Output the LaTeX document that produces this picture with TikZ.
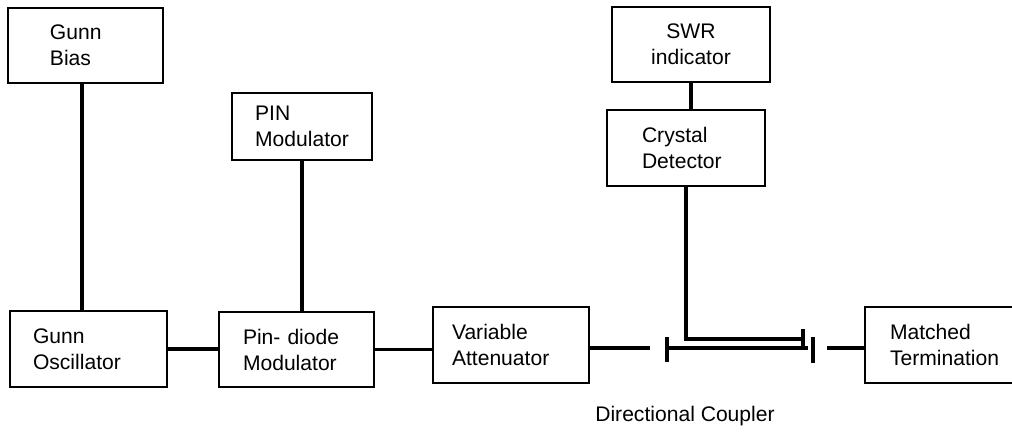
\documentclass[tikz,border=0pt]{standalone}
\usepackage{fontspec}
\setmainfont{Liberation Sans}
\usetikzlibrary{positioning}

\begin{document}
\begin{tikzpicture}[
  font=\fontsize{15pt}{18.5pt}\selectfont,
  block/.style={rectangle, draw, line width=1.2pt, align=left,
                minimum height=1.9cm, inner ysep=0pt},
  wire/.style={line width=2.5pt}
]
  \clip (0,0) rectangle (25.3,10.825);
  % source side
  \node[block, minimum width=3.875cm, minimum height=1.875cm,
        text width=1.775cm, inner xsep=1.05cm] (gb) at (2.1375,9.6875) {Gunn\\Bias};
  \node[block, minimum width=3.925cm, text width=2.775cm,
        inner xsep=0.575cm] (go) at (2.2125,2.1) {Gunn\\Oscillator};
  \node[block, minimum width=3.5cm, minimum height=1.675cm] (pm) at (7.55,7.6625) {PIN\\Modulator};
  \node[block, minimum width=3.875cm, minimum height=1.875cm,
        text width=2.675cm, inner xsep=0.6cm] (pd) at (7.4125,2.0875) {Pin- diode\\Modulator};
  \node[block, minimum width=3.9cm, text width=2.95cm,
        inner xsep=0.475cm] (va) at (12.775,2.2) {Variable\\Attenuator};
  % detector side
  \node[block, align=center, minimum width=3.95cm, minimum height=1.875cm] (sw) at (17.275,9.7125) {SWR\\indicator};
  \node[block, minimum width=3.95cm, text width=2.2cm,
        inner xsep=0.875cm] (cd) at (17.15,7.125) {Crystal\\Detector};
  \node[block, minimum width=4.125cm, text width=2.875cm,
        inner xsep=0.625cm] (mt) at (23.6875,2.2) {Matched\\Termination};
  \node (dclabel) at (17.125,0.425) {Directional Coupler};

  % coupler
  \coordinate (dcin) at (16.25,2.125);
  \coordinate (dcl) at (16.675,2.125);
  \coordinate (dcr) at (20.2,2.125);
  \coordinate (dcup) at (20.075,2.35);
  \coordinate (dcout) at (20.675,2.125);

  \draw[line width=3pt] ([xshift=-0.08cm]gb.south) -- ([xshift=-0.08cm]gb.south |- go.north);
  \draw[wire] (pm.south) -- (pm.south |- pd.north);
  \draw[wire] (sw.south) -- (sw.south |- cd.north);
  \draw[wire] (go.east) -- (go.east -| pd.west);
  \draw[wire] (pd.east) -- (pd.east -| va.west);
  \draw[wire] (va.east |- dcin) -- (dcin);
  \draw[wire] (dcl) ++(0,0.275) -- ++(0,-0.625);
  \draw[wire] (dcl) -- (dcr);
  \draw[wire] (cd.south) |- (dcup);
  \draw[wire] (dcup) ++(0,0.25) -- (dcup |- dcr);
  \draw[wire] (20.325,2.4) -- (20.325,1.75);
  \draw[wire] (dcout) -- (dcout -| mt.west);
\end{tikzpicture}
\end{document}
